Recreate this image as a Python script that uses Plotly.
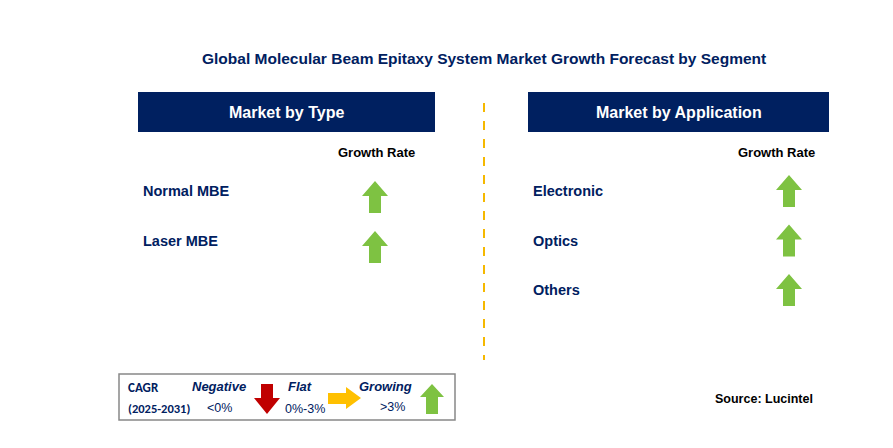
import plotly.graph_objects as go

title = "Global Molecular Beam Epitaxy System Market Growth Forecast by Segment"
type_segments = ["Normal MBE", "Laser MBE"]
type_trend = ["Growing", "Growing"]
app_segments = ["Electronic", "Optics", "Others"]
app_trend = ["Growing", "Growing", "Growing"]

NAVY = "#002060"
GREEN = "#7ec242"
fig = go.Figure()
shapes, ann = [], []

def up_arrow(cx, top, h=32, hw=13, sw=6, hh=15, color=GREEN):
    b = top + h
    p = (f"M{cx},{top} L{cx+hw},{top+hh} L{cx+sw},{top+hh} L{cx+sw},{b} "
         f"L{cx-sw},{b} L{cx-sw},{top+hh} L{cx-hw},{top+hh} Z")
    return dict(type="path", path=p, fillcolor=color, line=dict(width=0), xref="x", yref="y")

def text(x, y, s, size=14, color=NAVY, bold=True, anchor="left", italic=False, family="Arial"):
    if bold: s = f"<b>{s}</b>"
    if italic: s = f"<i>{s}</i>"
    ann.append(dict(x=x, y=y, text=s, showarrow=False, xref="x", yref="y",
                    xanchor=anchor, yanchor="middle", font=dict(size=size, color=color, family=family)))

text(484, 58, title, size=15.5, anchor="center")
for x0, x1, lab in [(138, 435, "Market by Type"), (528, 829, "Market by Application")]:
    shapes.append(dict(type="rect", x0=x0, x1=x1, y0=92, y1=132, fillcolor=NAVY, line=dict(width=0), xref="x", yref="y"))
    text((x0+x1)/2, 112, lab, size=16, color="white", anchor="center")
shapes.append(dict(type="line", x0=484, x1=484, y0=103, y1=360, line=dict(color="#f5b800", width=2, dash="dash"), xref="x", yref="y"))
text(376, 152, "Growth Rate", size=13, color="black", anchor="center")
text(776, 152, "Growth Rate", size=13, color="black", anchor="center")

for i, s in enumerate(type_segments):
    y = 191 + i*50
    text(141, y, s, size=14.5)
    shapes.append(up_arrow(375, y-10))
for i, s in enumerate(app_segments):
    y = 191 + i*49.5
    text(531, y, s, size=14.5)
    shapes.append(up_arrow(789, y-16))

# legend box
shapes.append(dict(type="rect", x0=119, x1=455, y0=374, y1=420, line=dict(color="#888888", width=1.5), fillcolor="white", xref="x", yref="y"))
text(126, 387, "CAGR", size=13, family="Carlito, Calibri, Arial")
text(126, 408, "(2025-2031)", size=12.5, family="Carlito, Calibri, Arial")
text(219, 386, "Negative", size=13, anchor="center", italic=True)
text(219, 408, "&lt;0%", size=12.5, bold=False, anchor="center")
text(300, 386, "Flat", size=13, anchor="center", italic=True)
text(305, 409, "0%-3%", size=12.5, bold=False, anchor="center")
text(385, 386, "Growing", size=13, anchor="center", italic=True)
text(392, 407, "&gt;3%", size=12.5, bold=False, anchor="center")
shapes.append(dict(type="path", path="M267,414 L280,398 L273,398 L273,384 L261,384 L261,398 L254,398 Z",
                   fillcolor="#c00000", line=dict(width=0), xref="x", yref="y"))
shapes.append(dict(type="path", path="M361,398 L346,387 L346,393 L328,393 L328,404 L346,404 L346,409 Z",
                   fillcolor="#ffc000", line=dict(width=0), xref="x", yref="y"))
shapes.append(up_arrow(432, 384, h=30, hw=12, sw=6, hh=13))

text(815, 399, "Source: Lucintel", size=12.5, color="black", anchor="right")

fig.update_layout(width=893, height=448, margin=dict(l=0, r=0, t=0, b=0),
                  plot_bgcolor="white", paper_bgcolor="white", shapes=shapes, annotations=ann,
                  xaxis=dict(range=[8, 901], visible=False),
                  yaxis=dict(range=[456, 8], visible=False), showlegend=False)
fig.write_html("out.html")
